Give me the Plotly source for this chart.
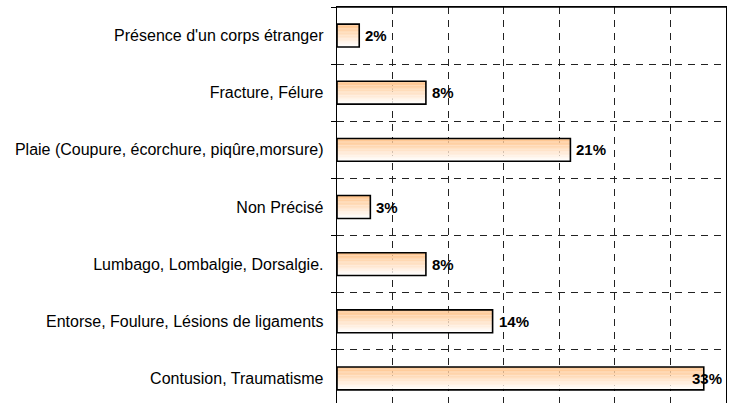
import plotly.graph_objects as go

categories = [
    "Présence d'un corps étranger",
    "Fracture, Félure",
    "Plaie (Coupure, écorchure, piqûre,morsure)",
    "Non Précisé",
    "Lumbago, Lombalgie, Dorsalgie.",
    "Entorse, Foulure, Lésions de ligaments",
    "Contusion, Traumatisme",
]
values = [2, 8, 21, 3, 8, 14, 33]
value_labels = ["2%", "8%", "21%", "3%", "8%", "14%", "33%"]

X_MAX = 35
BAR_W = 0.4
N_STRIPS = 16
TOP_RGB = (255, 196, 140)
BOT_RGB = (255, 255, 255)
FONT = "Liberation Sans, Arial, sans-serif"

fig = go.Figure()

# gradient fill: thin stacked strips from white (bottom) to orange (top)
for i in range(N_STRIPS):
    t = i / (N_STRIPS - 1)
    r = round(BOT_RGB[0] + (TOP_RGB[0] - BOT_RGB[0]) * t)
    g = round(BOT_RGB[1] + (TOP_RGB[1] - BOT_RGB[1]) * t)
    b = round(BOT_RGB[2] + (TOP_RGB[2] - BOT_RGB[2]) * t)
    w = BAR_W / N_STRIPS
    fig.add_trace(go.Bar(
        x=values, y=categories, orientation="h",
        width=w * 1.05, offset=-BAR_W / 2 + i * w,
        marker=dict(color=f"rgb({r},{g},{b})", line=dict(width=0)),
        hoverinfo="skip", showlegend=False,
    ))

# outline
fig.add_trace(go.Bar(
    x=values, y=categories, orientation="h",
    width=BAR_W, offset=-BAR_W / 2,
    marker=dict(color="rgba(0,0,0,0)", line=dict(color="black", width=1.6)),
    showlegend=False,
))

annotations = []
for cat, v, lab in zip(categories, values, value_labels):
    if v + 3 <= X_MAX:
        annotations.append(dict(x=v, y=cat, text=f"<b>{lab}</b>", xanchor="left",
                                xshift=4, showarrow=False,
                                font=dict(family=FONT, size=15, color="black")))
    else:
        annotations.append(dict(x=X_MAX, y=cat, text=f"<b>{lab}</b>", xanchor="right",
                                xshift=-2, showarrow=False,
                                font=dict(family=FONT, size=15, color="black")))

fig.update_layout(
    width=733, height=403,
    margin=dict(l=337, r=7, t=7, b=0, autoexpand=False),
    paper_bgcolor="white", plot_bgcolor="white",
    barmode="overlay",
    annotations=annotations,
    font=dict(family=FONT, size=16, color="black"),
    shapes=[dict(type="line", xref="paper", yref="paper", x0=0, x1=1, y0=1, y1=1,
                 line=dict(color="black", width=1.3), layer="above")],
)
fig.update_xaxes(
    range=[0, X_MAX], dtick=5, showticklabels=False,
    showgrid=True, gridcolor="#222", griddash="7px,6px", gridwidth=1,
    zeroline=False, showline=True, linecolor="black", linewidth=1.3,
    mirror=True, ticks="", fixedrange=True,
)
fig.update_yaxes(
    categoryorder="array", categoryarray=categories[::-1],
    range=[-0.43, 6.5], tickson="boundaries", ticks="outside", ticklen=5,
    tickcolor="black", showgrid=True, gridcolor="#222", griddash="7px,6px",
    gridwidth=1, showline=True, linecolor="black", linewidth=1.3, mirror=True,
    ticklabelstandoff=9, fixedrange=True,
    tickfont=dict(family=FONT, size=16, color="black"),
)

fig.write_html(
    "out.html",
    config={"displayModeBar": False, "staticPlot": True},
    post_script="document.body.style.margin='0';document.body.style.overflow='hidden';",
)
